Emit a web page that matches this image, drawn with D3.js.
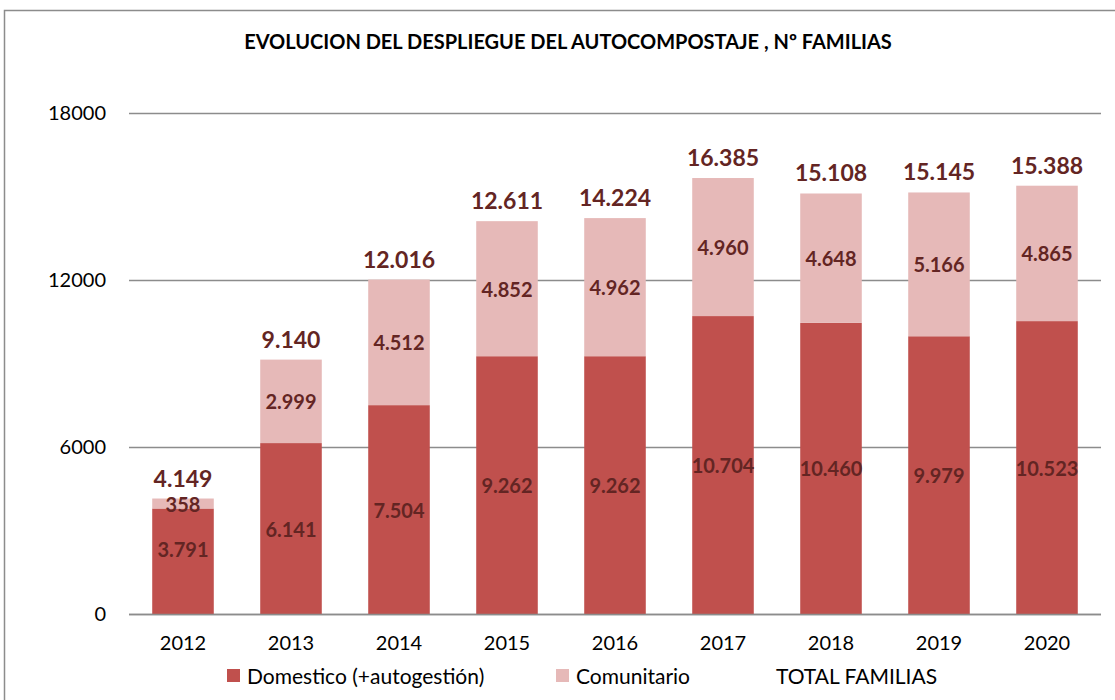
<!DOCTYPE html>
<html>
<head>
<meta charset="utf-8">
<script src="https://cdn.jsdelivr.net/npm/d3@7"></script>
<style>
  body { margin: 0; background: #fff; }
  text { font-family: Lato, "Open Sans", sans-serif; }
</style>
</head>
<body>
<div id="chart"></div>
<script>
// data
var years = ["2012", "2013", "2014", "2015", "2016", "2017", "2018", "2019", "2020"];
var domestico = [3791, 6141, 7504, 9262, 9262, 10704, 10460, 9979, 10523];
var comunitario = [358, 2999, 4512, 4852, 4962, 4960, 4648, 5166, 4865];
var totalLabels = ["4.149", "9.140", "12.016", "12.611", "14.224", "16.385", "15.108", "15.145", "15.388"];
var yTicks = [0, 6000, 12000, 18000];

var W = 1115, H = 700;
var cDom = "#c0504d", cCom = "#e6b9b8", cLab = "#632523";

var svg = d3.select("#chart").append("svg")
            .attr("width", W)
            .attr("height", H);

// outer frame
svg.append("rect")
   .attr("x", 4.5).attr("y", 10.5)
   .attr("width", W + 10).attr("height", H)
   .style("fill", "none")
   .style("stroke", "#8c8c8c")
   .style("stroke-width", 1.5);

svg.append("text")
   .attr("x", 568).attr("y", 49)
   .attr("text-anchor", "middle")
   .style("font-size", "20px")
   .style("font-weight", "bold")
   .style("fill", "#000")
   .text("EVOLUCION DEL DESPLIEGUE DEL AUTOCOMPOSTAJE , Nº FAMILIAS");

var x = d3.scaleBand().domain(years).range([129, 1101]).paddingInner(0.43).paddingOuter(0.215);
var y = d3.scaleLinear().domain([0, 18000]).range([614, 113]);

// grid
svg.append("g").selectAll("line")
   .data(yTicks)
   .enter().append("line")
   .attr("x1", 129).attr("x2", 1101)
   .attr("y1", function(d){ return Math.round(y(d)) + 0.5; })
   .attr("y2", function(d){ return Math.round(y(d)) + 0.5; })
   .style("stroke", "#8c8c8c")
   .style("stroke-width", 1.5);

var yAxis = svg.append("g")
   .attr("transform", "translate(106,0)")
   .call(d3.axisLeft(y).tickValues(yTicks).tickSize(0).tickPadding(0).tickFormat(d3.format("d")));
yAxis.select(".domain").remove();
yAxis.selectAll("text").style("font-size", "20px").style("fill", "#000");

var stack = years.map(function(yr, i){
  return { year: yr, dom: domestico[i], com: comunitario[i], total: totalLabels[i] };
});

var bars = svg.append("g").selectAll("g")
   .data(stack).enter().append("g");

bars.append("rect")
    .attr("x", function(d){ return x(d.year); })
    .attr("width", x.bandwidth())
    .attr("y", function(d){ return y(d.dom); })
    .attr("height", function(d){ return y(0) - y(d.dom); })
    .style("fill", cDom);

bars.append("rect")
    .attr("x", function(d){ return x(d.year); })
    .attr("width", x.bandwidth())
    .attr("y", function(d){ return y(d.dom + d.com); })
    .attr("height", function(d){ return y(d.dom) - y(d.dom + d.com); })
    .style("fill", cCom);

// redraw baseline on top of bars
svg.append("line")
   .attr("x1", 129).attr("x2", 1101)
   .attr("y1", Math.round(y(0)) + 0.5).attr("y2", Math.round(y(0)) + 0.5)
   .style("stroke", "#8c8c8c").style("stroke-width", 1.5);

var fmt = function(v){ return d3.format(",")(v).replace(/,/g, "."); };

bars.append("text")
    .attr("x", function(d){ return x(d.year) + x.bandwidth() / 2; })
    .attr("y", function(d){
        var mid = (y(0) + y(d.dom)) / 2 + 8;
        // small first bar: label pushed up like the original
        return d.dom < 5000 ? mid - 12 : mid;
    })
    .attr("text-anchor", "middle")
    .style("font-size", "20px").style("font-weight", "bold").style("fill", cLab)
    .text(function(d){ return fmt(d.dom); });

bars.append("text")
    .attr("x", function(d){ return x(d.year) + x.bandwidth() / 2; })
    .attr("y", function(d){ return (y(d.dom) + y(d.dom + d.com)) / 2 + 8; })
    .attr("text-anchor", "middle")
    .style("font-size", "20px").style("font-weight", "bold").style("fill", cLab)
    .text(function(d){ return fmt(d.com); });

bars.append("text")
    .attr("x", function(d){ return x(d.year) + x.bandwidth() / 2; })
    .attr("y", function(d){ return y(d.dom + d.com) - 12; })
    .attr("text-anchor", "middle")
    .style("font-size", "23px").style("font-weight", "bold").style("fill", cLab)
    .text(function(d){ return d.total; });

var xAxis = svg.append("g")
   .attr("transform", "translate(0,636)")
   .call(d3.axisBottom(x).tickSize(0).tickPadding(0));
xAxis.select(".domain").remove();
xAxis.selectAll("text").style("font-size", "20px").style("fill", "#000");

// legend
var legend = [
  { name: "Domestico (+autogestión)", color: cDom, x: 227 },
  { name: "Comunitario", color: cCom, x: 556 },
  { name: "TOTAL FAMILIAS", color: null, x: 756 }
];
var lg = svg.append("g").selectAll("g").data(legend).enter().append("g");
lg.filter(function(d){ return d.color; }).append("rect")
  .attr("x", function(d){ return d.x; }).attr("y", 669)
  .attr("width", 13).attr("height", 13)
  .style("fill", function(d){ return d.color; });
lg.append("text")
  .attr("x", function(d){ return d.x + 20; }).attr("y", 684)
  .style("font-size", "21px").style("fill", "#000")
  .text(function(d){ return d.name; });
</script>
</body>
</html>
